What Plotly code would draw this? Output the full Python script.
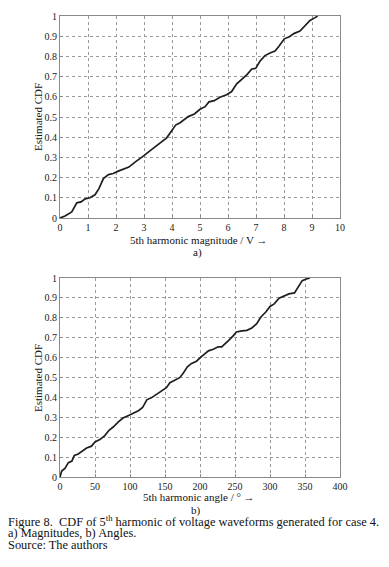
import plotly.graph_objects as go

# --- data: a) magnitudes (V) vs estimated CDF
mag_x = [0, 0.18, 0.42, 0.48, 0.6, 0.75, 0.9, 1.07, 1.25, 1.39, 1.55, 1.73, 1.9, 2.08, 2.26, 2.46,
         2.68, 2.86, 3.01, 3.21, 3.39, 3.61, 3.81, 3.99, 4.13, 4.29, 4.44, 4.58, 4.8, 5.0, 5.18,
         5.32, 5.51, 5.71, 5.95, 6.13, 6.31, 6.51, 6.67, 6.85, 6.99, 7.14, 7.32, 7.5, 7.68, 7.82,
         8.01, 8.19, 8.37, 8.57, 8.75, 8.93, 9.11, 9.2]
mag_cdf = [0, 0.01, 0.03, 0.045, 0.075, 0.08, 0.095, 0.1, 0.115, 0.145, 0.195, 0.215, 0.22, 0.232,
           0.24, 0.252, 0.277, 0.294, 0.31, 0.332, 0.352, 0.374, 0.397, 0.432, 0.46, 0.472, 0.488,
           0.502, 0.515, 0.538, 0.551, 0.575, 0.581, 0.598, 0.61, 0.626, 0.664, 0.689, 0.709, 0.738,
           0.741, 0.776, 0.804, 0.817, 0.826, 0.85, 0.887, 0.897, 0.914, 0.925, 0.95, 0.978, 0.992, 1.0]

# --- data: b) angles (deg) vs estimated CDF
ang_x = [0, 2.4, 7, 12, 17, 20.5, 26, 32, 38, 45, 50, 57, 64, 70, 76, 83, 90, 98, 105, 112, 118,
         124, 131, 138, 145, 152, 157, 164, 171, 176, 182, 188, 195, 200, 207, 212, 219, 226, 231,
         237, 241, 248, 252, 260, 267, 274, 281, 287, 294, 300, 306, 313, 320, 327, 335, 340, 346,
         352, 357]
ang_cdf = [0, 0.03, 0.043, 0.072, 0.08, 0.108, 0.116, 0.133, 0.146, 0.155, 0.176, 0.188, 0.208,
           0.235, 0.251, 0.276, 0.296, 0.309, 0.321, 0.333, 0.349, 0.388, 0.399, 0.416, 0.429,
           0.449, 0.474, 0.488, 0.499, 0.521, 0.554, 0.571, 0.582, 0.599, 0.621, 0.634, 0.642,
           0.654, 0.654, 0.671, 0.687, 0.712, 0.729, 0.734, 0.737, 0.749, 0.77, 0.804, 0.829,
           0.857, 0.87, 0.899, 0.909, 0.92, 0.925, 0.953, 0.987, 0.995, 1.0]

mag_ticks = list(range(0, 11))
ang_ticks = list(range(0, 401, 50))
cdf_ticks = [0, 0.1, 0.2, 0.3, 0.4, 0.5, 0.6, 0.7, 0.8, 0.9, 1]
cdf_labels = ["0", "0.1", "0.2", "0.3", "0.4", "0.5", "0.6", "0.7", "0.8", "0.9", "1"]

W, H = 389, 567
FONT = "Liberation Serif"

fig = go.Figure()
fig.add_trace(go.Scatter(x=mag_x, y=mag_cdf, mode="lines", xaxis="x", yaxis="y",
                         line=dict(color="#1e1e1e", width=1.7), showlegend=False))
fig.add_trace(go.Scatter(x=ang_x, y=ang_cdf, mode="lines", xaxis="x2", yaxis="y2",
                         line=dict(color="#1e1e1e", width=1.7), showlegend=False))

def px_x(p):
    return p / W

def px_y(p):
    return 1 - p / H

axis_common = dict(showline=True, mirror=True, linecolor="#8a8a8a", linewidth=1,
                   showgrid=True, gridcolor="#9a9a9a", griddash="dot", gridwidth=1,
                   ticks="inside", ticklen=3, tickcolor="#8a8a8a", zeroline=False,
                   tickfont=dict(family=FONT, size=10, color="#222"))

fig.update_layout(
    width=W, height=H, margin=dict(l=0, r=0, t=0, b=0, autoexpand=False),
    paper_bgcolor="white", plot_bgcolor="white",
    xaxis=dict(domain=[px_x(60), px_x(340)], range=[0, 10], tickvals=mag_ticks,
               anchor="y", automargin=False, **axis_common),
    yaxis=dict(domain=[px_y(218), px_y(16)], range=[0, 1], tickvals=cdf_ticks,
               ticktext=cdf_labels, anchor="x", automargin=False, **axis_common),
    xaxis2=dict(domain=[px_x(60), px_x(340)], range=[0, 400], tickvals=ang_ticks,
                anchor="y2", automargin=False, **axis_common),
    yaxis2=dict(domain=[px_y(477), px_y(278)], range=[0, 1], tickvals=cdf_ticks,
                ticktext=cdf_labels, anchor="x2", automargin=False, **axis_common),
)

def text(x, y, s, size=11, angle=0, xanchor="center", yanchor="middle"):
    fig.add_annotation(x=px_x(x), y=px_y(y), xref="paper", yref="paper", text=s,
                       showarrow=False, textangle=angle, xanchor=xanchor, yanchor=yanchor,
                       font=dict(family=FONT, size=size, color="#111"), borderpad=0)

text(198, 240, "5th harmonic magnitude / V \u2192")
text(197, 253, "a)")
text(38, 117, "Estimated CDF", angle=-90)
text(199, 497, "5th harmonic angle / \u00b0 \u2192")
text(196, 510, "b)")
text(38, 378, "Estimated CDF", angle=-90)

text(7, 529.5, "Figure 8.  CDF of 5<sup>th</sup> harmonic of voltage waveforms generated for case 4.",
     size=12.4, xanchor="left", yanchor="bottom")
text(7, 541, "a) Magnitudes, b) Angles.", size=12.4, xanchor="left", yanchor="bottom")
text(7, 552.5, "Source: The authors", size=12.4, xanchor="left", yanchor="bottom")

fig.write_html("out.html", config={"displayModeBar": False},
               post_script="document.body.style.margin='0';document.body.style.overflow='hidden';")
